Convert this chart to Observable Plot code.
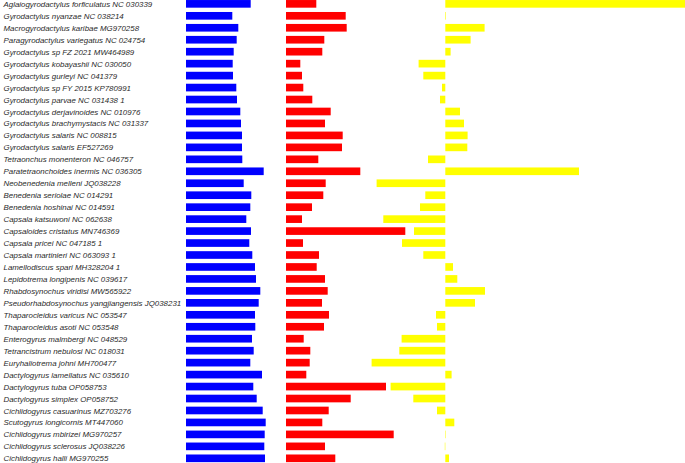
<!DOCTYPE html>
<html>
<head>
<meta charset="utf-8">
<script src="https://cdn.jsdelivr.net/npm/d3@7"></script>
<script src="https://cdn.jsdelivr.net/npm/@observablehq/plot@0.6"></script>
<style>
  html, body { margin: 0; padding: 0; background: white; }
  #chart { position: relative; width: 685px; height: 463px; overflow: hidden; }
  #chart svg { position: absolute; left: 0; top: 0; background: transparent; }
</style>
</head>
<body>
<div id="chart"></div>
<script>
const species = [
  "Aglaiogyrodactylus forficulatus NC 030339",
  "Gyrodactylus nyanzae NC 038214",
  "Macrogyrodactylus karibae MG970258",
  "Paragyrodactylus variegatus NC 024754",
  "Gyrodactylus sp FZ 2021 MW464989",
  "Gyrodactylus kobayashii NC 030050",
  "Gyrodactylus gurleyi NC 041379",
  "Gyrodactylus sp FY 2015 KP780991",
  "Gyrodactylus parvae NC 031438 1",
  "Gyrodactylus derjavinoides NC 010976",
  "Gyrodactylus brachymystacis NC 031337",
  "Gyrodactylus salaris NC 008815",
  "Gyrodactylus salaris EF527269",
  "Tetraonchus monenteron NC 046757",
  "Paratetraonchoides inermis NC 036305",
  "Neobenedenia melleni JQ038228",
  "Benedenia seriolae NC 014291",
  "Benedenia hoshinai NC 014591",
  "Capsala katsuwoni NC 062638",
  "Capsaloides cristatus MN746369",
  "Capsala pricei NC 047185 1",
  "Capsala martinieri NC 063093 1",
  "Lamellodiscus spari MH328204 1",
  "Lepidotrema longipenis NC 039617",
  "Rhabdosynochus viridisi MW565922",
  "Pseudorhabdosynochus yangjiangensis JQ038231",
  "Thaparocleidus varicus NC 053547",
  "Thaparocleidus asoti NC 053548",
  "Enterogyrus malmbergi NC 048529",
  "Tetrancistrum nebulosi NC 018031",
  "Euryhaliotrema johni MH700477",
  "Dactylogyrus lamellatus NC 035610",
  "Dactylogyrus tuba OP058753",
  "Dactylogyrus simplex OP058752",
  "Cichlidogyrus casuarinus MZ703276",
  "Scutogyrus longicornis MT447060",
  "Cichlidogyrus mbirizei MG970257",
  "Cichlidogyrus sclerosus JQ038226",
  "Cichlidogyrus halli MG970255"
];

const blueValues = [64.7, 46.3, 52.3, 50.7, 47.7, 46.7, 47, 50.3, 51, 54.3,
  55, 56, 56, 56.3, 77.7, 57.7, 65.3, 64.3, 60.3, 65,
  63.3, 66.3, 69, 70, 74.3, 72.7, 69, 69.3, 66, 67.7,
  64.3, 76, 67.3, 70.7, 76.7, 79.7, 78.7, 78.3, 79];

const redValues = [30.3, 59.7, 60.7, 38.3, 36.3, 14.3, 16, 17.3, 26.3, 44.7,
  39, 56.7, 56, 32.3, 74.3, 39.7, 37.3, 26, 16, 119.3,
  17, 33, 30.7, 39, 41.7, 36, 43, 38, 17.7, 24.3,
  23.7, 20.3, 100, 64.7, 42.7, 36.3, 107.7, 39, 49.3];

const yellowValues = [240, 0.6, 39.3, 25.3, 5.3, -26.7, -22, -3.3, -5.3, 14.7,
  18.7, 22.3, 22, -17.3, 133.7, -68.7, -20, -25.3, -62, -31.3,
  -43.3, -22, 7.7, 12, 39.7, 29.7, -9.3, -8.3, -43.7, -46,
  -73.7, 6.3, -54.7, -32, -8.3, 9, 0.5, -0.5, 3.7];

const rows = species.map((s, i) => ({
  species: s, blue: blueValues[i], red: redValues[i], yellow: yellowValues[i]
}));

const W = 685, H = 463;
const yScale = {domain: species, range: [-2.13, 464.3], paddingInner: 0.36, paddingOuter: 0.18, axis: null};
const common = {width: W, height: H, margin: 0, style: {background: "transparent", overflow: "visible"}};

const p1 = Plot.plot({
  ...common,
  x: {domain: [0, 100], range: [186, 286], axis: null},
  y: yScale,
  marks: [
    Plot.text(rows, {y: "species", text: "species", frameAnchor: "left", dx: 3, textAnchor: "start",
      fontSize: 7.9, fontStyle: "italic", fill: "#2a2a2a", fontFamily: "Liberation Sans, Arial, sans-serif"}),
    Plot.barX(rows, {x: "blue", y: "species", fill: "#0000ff"})
  ]
});

const p2 = Plot.plot({
  ...common,
  x: {domain: [0, 100], range: [286, 386], axis: null},
  y: yScale,
  marks: [
    Plot.barX(rows, {x: "red", y: "species", fill: "#ff0000"})
  ]
});

const p3 = Plot.plot({
  ...common,
  x: {domain: [-100, 100], range: [345.3, 545.3], axis: null},
  y: yScale,
  marks: [
    Plot.barX(rows, {x: "yellow", y: "species", fill: "#ffff00"})
  ]
});

const chart = document.getElementById("chart");
chart.append(p3, p2, p1);
</script>
</body>
</html>
